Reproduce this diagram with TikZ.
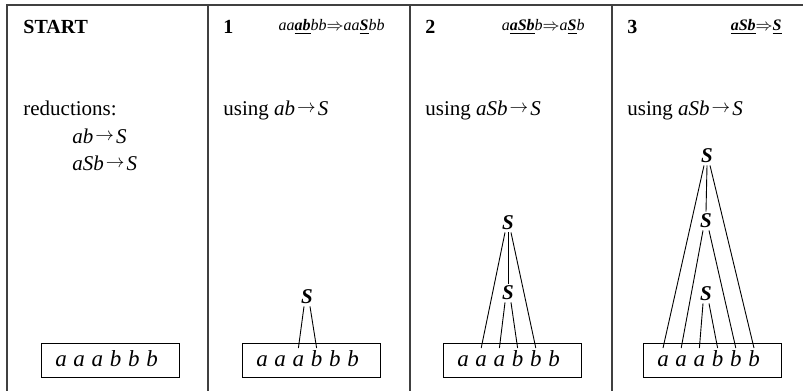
\documentclass[tikz,border=0pt]{standalone}
\usepackage{fontspec}
\setmainfont{Liberation Serif}
\newcommand{\vi}[1]{\textit{#1}}
\newcommand{\vb}[1]{\underline{\textbf{\textit{#1}}}}
\newcommand{\redto}{\kern1pt\raisebox{0.25ex}{\scalebox{0.85}{$\rightarrow$}}\kern1pt}
\tikzset{
  rule/.style={line width=0.7pt, black!75},
  head/.style={font=\fontsize{10}{12}\selectfont\bfseries, anchor=base west, inner sep=0pt},
  rewrite/.style={font=\fontsize{8}{10}\selectfont, anchor=base east, inner sep=0pt},
  txt/.style={font=\fontsize{10.5}{13}\selectfont, anchor=base west, inner sep=0pt},
  wordbox/.style={draw, line width=0.5pt, minimum width=69pt, minimum height=17pt, inner sep=0pt},
  letter/.style={font=\fontsize{11.5}{14}\selectfont\itshape, anchor=base, inner sep=1pt, text height=7.8pt, text depth=0pt},
  nt/.style={font=\fontsize{10.5}{13}\selectfont\bfseries\itshape, inner sep=1pt},
  branch/.style={line width=0.45pt}
}
\begin{document}
\begin{tikzpicture}[x=0.5pt,y=-0.5pt]
\useasboundingbox (0,0) rectangle (803,391);
% table rules
\draw[rule] (803,5) -- (7,5) -- (7,391);
\draw[rule] (208,5) -- (208,391);
\draw[rule] (410,5) -- (410,391);
\draw[rule] (612,5) -- (612,391);
% headings
\node[head] (h0) at (23,33) {START};
\node[head] (h1) at (223,33) {1};
\node[head] (h2) at (425,33) {2};
\node[head] (h3) at (627,33) {3};
\node[rewrite] (rw1) at (385,30) {\vi{aa}\vb{ab}\vi{bb}$\Rightarrow$\vi{aa}\vb{S}\vi{bb}};
\node[rewrite] (rw2) at (585,30) {\vi{a}\vb{aSb}\vi{b}$\Rightarrow$\vi{a}\vb{S}\vi{b}};
\node[rewrite] (rw3) at (782,30) {\vb{aSb}$\Rightarrow$\vb{S}};
% texts
\node[txt] (red) at (23,115) {reductions:};
\node[txt] (red1) at (72,143) {\vi{ab}\redto\vi{S}};
\node[txt] (red2) at (72,170) {\vi{aSb}\redto\vi{S}};
\node[txt] (use1) at (223,115) {using \vi{ab}\redto\vi{S}};
\node[txt] (use2) at (425,115) {using \vi{aSb}\redto\vi{S}};
\node[txt] (use3) at (627,115) {using \vi{aSb}\redto\vi{S}};
% words in boxes
\foreach \p/\bx in {0/41,1/242,2/443,3/643}{
  \node[wordbox] (box\p) at (\bx+69,360) {};
  \foreach \k/\c in {1/a,2/a,3/a,4/b,5/b,6/b}
    \node[letter] (l\p\k) at (\bx+1.8+18.2*\k,366) {\c};
}
% panel 1
\node[nt] (s1) at (307,297) {S};
\draw[branch] ([xshift=-1.5pt]s1.south) -- (l13.north);
\draw[branch] ([xshift=1.5pt]s1.south) -- (l14.north);
% panel 2
\node[nt] (s2t) at (508,223) {S};
\node[nt] (s2m) at (508,293) {S};
\draw[branch] (s2t.south) -- (s2m.north);
\draw[branch] ([xshift=-1.5pt]s2t.south) -- (l22.north);
\draw[branch] ([xshift=1.5pt]s2t.south) -- (l25.north);
\draw[branch] ([xshift=-1.5pt]s2m.south) -- (l23.north);
\draw[branch] ([xshift=1.5pt]s2m.south) -- (l24.north);
% panel 3
\node[nt] (s3t) at (707,156) {S};
\node[nt] (s3m) at (706,221) {S};
\node[nt] (s3b) at (706,294) {S};
\draw[branch] (s3t.south) -- (s3m.north);
\draw[branch] ([xshift=-1.5pt]s3t.south) -- (l31.north);
\draw[branch] ([xshift=1.5pt]s3t.south) -- (l36.north);
\draw[branch] ([xshift=-1.5pt]s3m.south) -- (l32.north);
\draw[branch] ([xshift=1.5pt]s3m.south) -- (l35.north);
\draw[branch] ([xshift=-1.5pt]s3b.south) -- (l33.north);
\draw[branch] ([xshift=1.5pt]s3b.south) -- (l34.north);
\end{tikzpicture}
\end{document}
